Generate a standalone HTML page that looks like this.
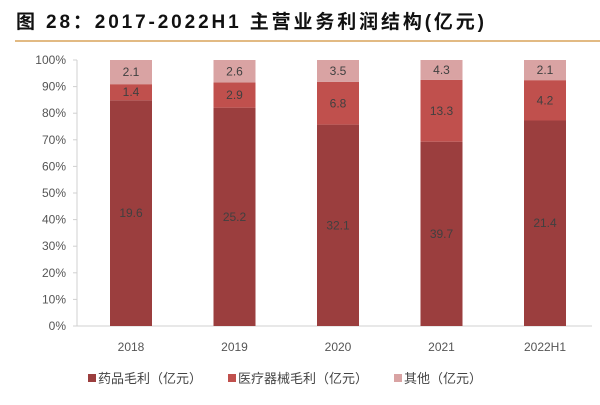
<!DOCTYPE html>
<html><head><meta charset="utf-8"><style>
body{margin:0;width:600px;height:400px;background:#fff;overflow:hidden;font-family:"Liberation Sans","Noto Sans CJK SC",sans-serif}
</style></head><body>
<svg id="c" width="600" height="400" xmlns="http://www.w3.org/2000/svg">
<text x="16" y="28" font-size="19" font-weight="bold" fill="#111" textLength="468" lengthAdjust="spacing" font-family="Liberation Sans, Noto Sans CJK SC, sans-serif">图 28：2017-2022H1 主营业务利润结构(亿元)</text>
<line x1="15" y1="41" x2="600" y2="41" stroke="#d9a35a" stroke-width="1.5"/>
<g id="g"></g>
</svg>
<script>
const categories=["2018","2019","2020","2021","2022H1"];
const drug=[19.6,25.2,32.1,39.7,21.4];
const device=[1.4,2.9,6.8,13.3,4.2];
const other=[2.1,2.6,3.5,4.3,2.1];
const yTicks=[0,10,20,30,40,50,60,70,80,90,100];
const seriesNames=["药品毛利（亿元）","医疗器械毛利（亿元）","其他（亿元）"];
const colors=["#9b3e3e","#c0504d","#d9a3a3"];
const NS="http://www.w3.org/2000/svg";
const g=document.getElementById("g");
const y0=326,y1=60,xL=77,step=103.5,x0=131,bw=42;
const y=p=>y0-(y0-y1)*p/100;
const xc=i=>x0+i*step;
function mk(t,a){const e=document.createElementNS(NS,t);for(const k in a)e.setAttribute(k,a[k]);g.appendChild(e);return e;}
let ax=mk("line",{x1:xL,y1:y1,x2:xL,y2:y0,stroke:"#d0d0d0"});


let bx=mk("line",{x1:xL,y1:y0,x2:592,y2:y0,stroke:"#d0d0d0"});


yTicks.forEach(t=>{
 let tk=mk("line",{x1:xL-4,y1:y(t),x2:xL,y2:y(t),stroke:"#d0d0d0"});
 
 
 let l=mk("text",{x:66,y:y(t)+4,"font-size":12,fill:"#555","text-anchor":"end"});
 l.textContent=t+"%";
 
 
});
categories.forEach((c,i)=>{
 const vals=[drug[i],device[i],other[i]];const tot=vals[0]+vals[1]+vals[2];
 let acc=0;
 vals.forEach((v,s)=>{
  const p0=acc/tot*100,p1=(acc+v)/tot*100;acc+=v;
  let r=mk("rect",{x:xc(i)-bw/2,y:y(p1),width:bw,height:y(p0)-y(p1),fill:colors[s]});
  
  
  let t=mk("text",{x:xc(i),y:(y(p0)+y(p1))/2+4,"font-size":12,fill:"#404040","text-anchor":"middle"});
  t.textContent=v.toFixed(1);
  
  
 });
 let xl=mk("text",{x:xc(i),y:351,"font-size":12,fill:"#555","text-anchor":"middle"});
 xl.textContent=c;
 
 
});
const lx=[88,228,394];
seriesNames.forEach((n,s)=>{
 let r=mk("rect",{x:lx[s],y:374,width:8,height:8,fill:colors[s]});
 
 
 let t=mk("text",{x:lx[s]+10,y:383,"font-size":13,fill:"#444"});
 t.textContent=n;
 
 
});
</script>
</body></html>
